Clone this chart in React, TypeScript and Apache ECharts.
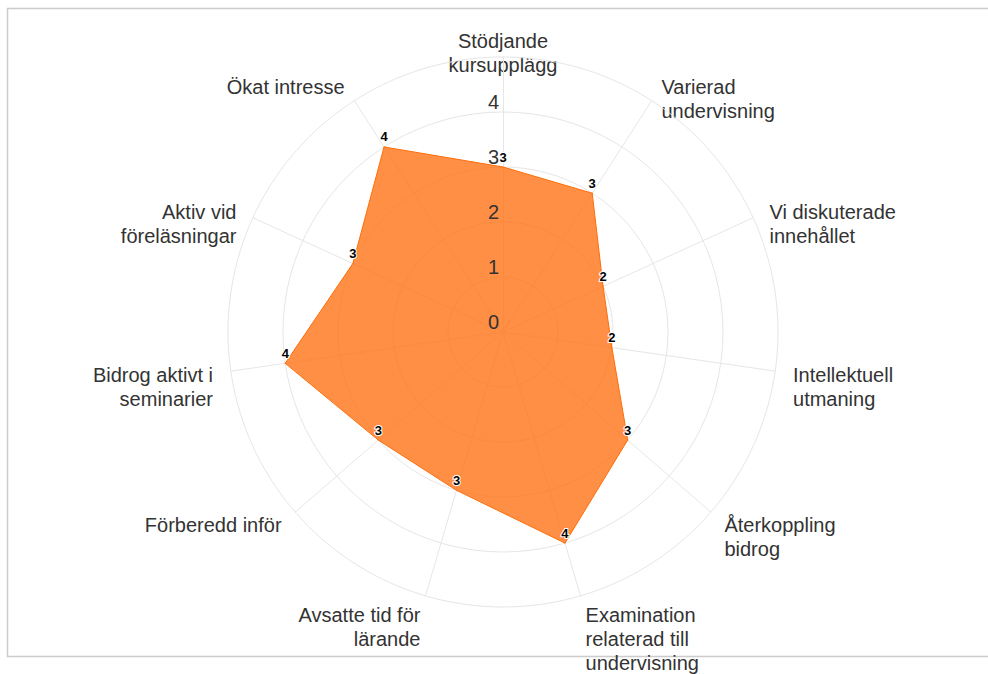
import React, { useEffect, useRef } from "react";
import * as echarts from "echarts";

// Clockwise order starting at the top
const categories = [
  "Stödjande\nkursupplägg",
  "Varierad\nundervisning",
  "Vi diskuterade\ninnehållet",
  "Intellektuell\nutmaning",
  "Återkoppling\nbidrog",
  "Examination\nrelaterad till\nundervisning",
  "Avsatte tid för\nlärande",
  "Förberedd inför",
  "Bidrog aktivt i\nseminarier",
  "Aktiv vid\nföreläsningar",
  "Ökat intresse",
];
const values = [3, 3, 2, 2, 3, 4, 3, 3, 4, 3, 4];
const axisMin = 0;
const axisMax = 5;
const tickLabels = [0, 1, 2, 3, 4];

const FONT = "'Liberation Sans', Arial, Helvetica, sans-serif";

export default function App() {
  const ref = useRef<HTMLDivElement>(null);
  useEffect(() => {
    if (!ref.current) return;
    const chart = echarts.init(ref.current, undefined, { renderer: "svg" });
    const cx = 503;
    const cy = 332;
    const radius = 275;
    const nameR = 293;
    const n = categories.length;

    // ECharts radar runs counter-clockwise: reorder
    const ccw = <T,>(a: T[]) => [a[0], ...a.slice(1).reverse()];
    const cats = ccw(categories);
    const vals = ccw(values);

    const indicator = cats.map((c) => ({ name: c, min: axisMin, max: axisMax }));

    const nameTexts = categories.map((c, i) => {
      const t = (i * 2 * Math.PI) / n;
      const s = Math.sin(t);
      const x = cx + nameR * s;
      const y = cy - nameR * Math.cos(t);
      const align = i === 0 ? "center" : s > 0 ? "left" : "right";
      return {
        type: "text",
        silent: true,
        style: {
          text: c,
          x,
          y: y - 10.5,
          align,
          verticalAlign: "top",
          fontFamily: FONT,
          fontSize: 20,
          lineHeight: 24,
          fill: "#333333",
        },
      };
    });

    const tickTexts = tickLabels.map((v) => ({
      type: "text",
      silent: true,
      z: 100,
      style: {
        text: String(v),
        x: cx - 4,
        y: cy - ((v - axisMin) / (axisMax - axisMin)) * radius,
        align: "right",
        verticalAlign: "bottom",
        fontFamily: FONT,
        fontSize: 20,
        fill: "#333333",
      },
    }));

    chart.setOption({
      animation: false,
      backgroundColor: "#ffffff",
      graphic: [
        {
          type: "rect",
          silent: true,
          shape: { x: 7.5, y: 8.5, width: 1200, height: 648 },
          style: { fill: "none", stroke: "#cccccc", lineWidth: 1.5 },
        },
        ...nameTexts,
        ...tickTexts,
      ],
      radar: {
        center: [cx, cy],
        radius,
        startAngle: 90,
        shape: "circle",
        splitNumber: 5,
        indicator,
        axisName: { show: false },
        axisLine: { lineStyle: { color: "#e6e6e6", width: 1 } },
        splitLine: { lineStyle: { color: "#e6e6e6", width: 1 } },
        splitArea: { show: false },
        axisTick: { show: false },
        axisLabel: { show: false },
      },
      series: [
        {
          type: "radar",
          symbol: "circle",
          symbolSize: 1,
          itemStyle: { color: "#ff6a00" },
          lineStyle: { color: "#ff6a00", width: 1 },
          areaStyle: { color: "#ff7010", opacity: 0.78 },
          label: {
            show: true,
            position: "top",
            distance: 3,
            color: "#000000",
            fontSize: 13,
            fontWeight: "bold",
            fontFamily: FONT,
            textBorderColor: "#ffffff",
            textBorderWidth: 2,
          },
          data: [{ value: vals, name: "Värde" }],
        },
      ],
    });
    return () => chart.dispose();
  }, []);
  return (
    <div
      ref={ref}
      style={{ position: "absolute", left: 0, top: 0, width: 988, height: 674 }}
    />
  );
}
